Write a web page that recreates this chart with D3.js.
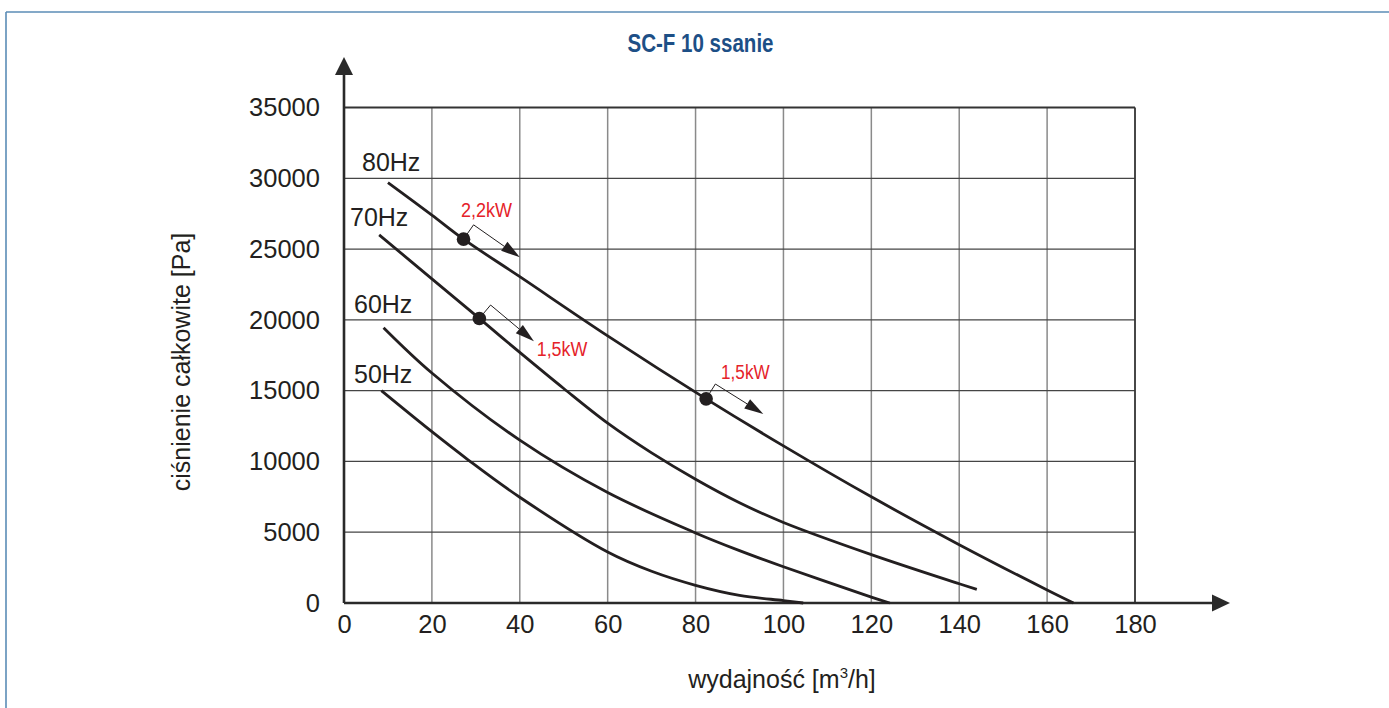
<!DOCTYPE html>
<html>
<head>
<meta charset="utf-8">
<script src="https://cdn.jsdelivr.net/npm/d3@7"></script>
<style>
  html, body { margin: 0; padding: 0; background: #fff; }
  svg { display: block; }
</style>
</head>
<body>
<svg id="chart" width="1389" height="708"></svg>
<script>
// ---------- data ----------
const title = "SC-F 10 ssanie";
const xLabel = "wydajność [m";
const yLabel = "ciśnienie całkowite [Pa]";
const xTicks = [0, 20, 40, 60, 80, 100, 120, 140, 160, 180];
const yTicks = [0, 5000, 10000, 15000, 20000, 25000, 30000, 35000];
const seriesNames = ["80Hz", "70Hz", "60Hz", "50Hz"];
const flow80 = [10, 20, 27.2, 40, 60, 82.4, 100, 120, 140, 160, 166];
const pres80 = [29700, 27400, 25700, 23050, 18870, 14420, 11100, 7500, 4120, 920, 0];
const flow70 = [8, 20, 30.8, 40, 50, 60, 70, 80, 90, 100, 120, 140, 144];
const pres70 = [26000, 22900, 20100, 17700, 15150, 12700, 10600, 8740, 7080, 5690, 3420, 1360, 960];
const flow60 = [9, 20, 40, 60, 80, 90, 100, 120, 124.2];
const pres60 = [19450, 16250, 11500, 7800, 4950, 3700, 2560, 420, 0];
const flow50 = [8.5, 20, 28.3, 40, 60, 70, 80, 90, 100, 104.5];
const pres50 = [15000, 12100, 10100, 7470, 3600, 2240, 1250, 540, 170, 0];
const powerLabels = ["2,2kW", "1,5kW", "1,5kW"];
const powerSeries = ["80Hz", "70Hz", "80Hz"];
const powerFlow = [27.2, 30.8, 82.4];
const powerPres = [25700, 20100, 14420];

// ---------- layout / style ----------
const W = 1389, H = 708;
const X0 = 344, X1 = 1135, Y0 = 603, Y1 = 107.5;
const textColor = "#231f20";
const redColor = "#e52229";
const baseFont = "'Liberation Sans', Arial, sans-serif";
const seriesLabelPos = [[362, 171], [350, 226], [354, 313], [354, 383]];
const powerLabelOffset = [[-2.6, -21.7], [57.4, 37.7], [15, -19.5]];
const powerLabelWidth = [51, 50.5, 48.5];

const svg = d3.select("#chart");
const x = d3.scaleLinear().domain([0, 180]).range([X0, X1]);
const y = d3.scaleLinear().domain([0, 35000]).range([Y0, Y1]);

// outer frame (top + left only)
svg.append("line").attr("x1", 6).attr("y1", 12).attr("x2", W).attr("y2", 12)
  .attr("stroke", "#5b8cb6").attr("stroke-width", 1.6);
svg.append("line").attr("x1", 6).attr("y1", 12).attr("x2", 6).attr("y2", H)
  .attr("stroke", "#5b8cb6").attr("stroke-width", 1.6);

// title
svg.append("text").attr("x", 627.5).attr("y", 52)
  .attr("font-family", baseFont).attr("font-weight", "bold").attr("font-size", 25)
  .attr("textLength", 146).attr("lengthAdjust", "spacingAndGlyphs")
  .attr("fill", "#1d4f86").text(title);

// grid
const grid = svg.append("g");
grid.selectAll("line.v").data(xTicks.slice(1, -1)).join("line")
  .attr("x1", d => x(d)).attr("x2", d => x(d)).attr("y1", y(0)).attr("y2", y(35000))
  .attr("stroke", "#8a8a8a").attr("stroke-width", 1.5);
grid.selectAll("line.h").data(yTicks.slice(1, -1)).join("line")
  .attr("x1", x(0)).attr("x2", x(180)).attr("y1", d => y(d)).attr("y2", d => y(d))
  .attr("stroke", "#454545").attr("stroke-width", 1.3);
grid.append("line").attr("x1", x(0)).attr("x2", x(180)).attr("y1", y(35000)).attr("y2", y(35000))
  .attr("stroke", "#333").attr("stroke-width", 1.8);
grid.append("line").attr("x1", x(180)).attr("x2", x(180)).attr("y1", y(0)).attr("y2", y(35000))
  .attr("stroke", "#333").attr("stroke-width", 1.8);

// axes with tick labels
const xAxis = svg.append("g").attr("transform", `translate(0,${Y0})`)
  .call(d3.axisBottom(x).tickValues(xTicks).tickSize(0).tickPadding(12).tickFormat(d3.format("d")));
const yAxis = svg.append("g").attr("transform", `translate(${X0},0)`)
  .call(d3.axisLeft(y).tickValues(yTicks).tickSize(0).tickPadding(24).tickFormat(d3.format("d")));
[xAxis, yAxis].forEach(a => {
  a.select(".domain").remove();
  a.selectAll("text").attr("font-family", baseFont).attr("font-size", 25.5).attr("fill", textColor);
});

// axis lines with arrows
const axisColor = "#2a2a2a";
svg.append("line").attr("x1", X0).attr("y1", Y0).attr("x2", X0).attr("y2", 72)
  .attr("stroke", axisColor).attr("stroke-width", 2.6);
svg.append("line").attr("x1", X0).attr("y1", Y0).attr("x2", 1216).attr("y2", Y0)
  .attr("stroke", axisColor).attr("stroke-width", 2.6);
svg.append("path").attr("d", `M${X0},57 L${X0 - 9},75 L${X0 + 9},75 Z`).attr("fill", axisColor);
svg.append("path").attr("d", `M1230,${Y0} L1212,${Y0 - 8.5} L1212,${Y0 + 8.5} Z`).attr("fill", axisColor);

// axis titles
const xt = svg.append("text").attr("x", 782).attr("y", 688).attr("text-anchor", "middle")
  .attr("font-family", baseFont).attr("font-size", 25).attr("fill", textColor);
xt.append("tspan").text(xLabel);
xt.append("tspan").attr("font-size", 15).attr("dy", -10).text("3");
xt.append("tspan").attr("dy", 10).text("/h]");
svg.append("text").attr("transform", "translate(190,362) rotate(-90)").attr("text-anchor", "middle")
  .attr("font-family", baseFont).attr("font-size", 25).attr("fill", textColor).text(yLabel);

// curves
const flows = [flow80, flow70, flow60, flow50];
const press = [pres80, pres70, pres60, pres50];
const seriesData = seriesNames.map((n, i) => ({ name: n, pts: flows[i].map((f, j) => [f, press[i][j]]) }));
const line = d3.line().x(d => x(d[0])).y(d => y(d[1])).curve(d3.curveCatmullRom.alpha(0.5));
svg.append("g").selectAll("path").data(seriesData).join("path")
  .attr("d", d => line(d.pts)).attr("fill", "none")
  .attr("stroke", textColor).attr("stroke-width", 2.8).attr("stroke-linecap", "butt");

svg.append("g").selectAll("text").data(seriesData).join("text")
  .attr("x", (d, i) => seriesLabelPos[i][0]).attr("y", (d, i) => seriesLabelPos[i][1])
  .attr("font-family", baseFont).attr("font-size", 25).attr("fill", textColor).text(d => d.name);

// power points with bracket arrows
const ann = svg.append("g");
powerLabels.forEach((lab, i) => {
  const s = seriesData.find(d => d.name === powerSeries[i]);
  const px = x(powerFlow[i]), py = y(powerPres[i]);
  const k = s.pts.findIndex(p => p[0] === powerFlow[i]);
  const a = s.pts[Math.max(0, k - 1)], b = s.pts[Math.min(s.pts.length - 1, k + 1)];
  let tx = x(b[0]) - x(a[0]), ty = y(b[1]) - y(a[1]);
  const tl = Math.hypot(tx, ty); tx /= tl; ty /= tl;
  const nx = ty, ny = -tx;
  const off = 17.5, len = 56.5, head = 19, hw = 5.5;
  const cx = px + nx * off, cy = py + ny * off;
  const ex = cx + tx * len, ey = cy + ty * len;
  const bx = ex - tx * head, by = ey - ty * head;
  ann.append("path")
    .attr("d", `M${px + nx * 6},${py + ny * 6} L${cx},${cy} L${bx},${by}`)
    .attr("fill", "none").attr("stroke", textColor).attr("stroke-width", 1);
  ann.append("path")
    .attr("d", `M${ex},${ey} L${bx + nx * hw},${by + ny * hw} L${bx - nx * hw},${by - ny * hw} Z`)
    .attr("fill", textColor);
  ann.append("circle").attr("cx", px).attr("cy", py).attr("r", 6.8).attr("fill", textColor);
  ann.append("text").attr("x", px + powerLabelOffset[i][0]).attr("y", py + powerLabelOffset[i][1])
    .attr("font-family", baseFont).attr("font-size", 19.5)
    .attr("textLength", powerLabelWidth[i]).attr("lengthAdjust", "spacingAndGlyphs")
    .attr("fill", redColor).text(lab);
});
</script>
</body>
</html>
